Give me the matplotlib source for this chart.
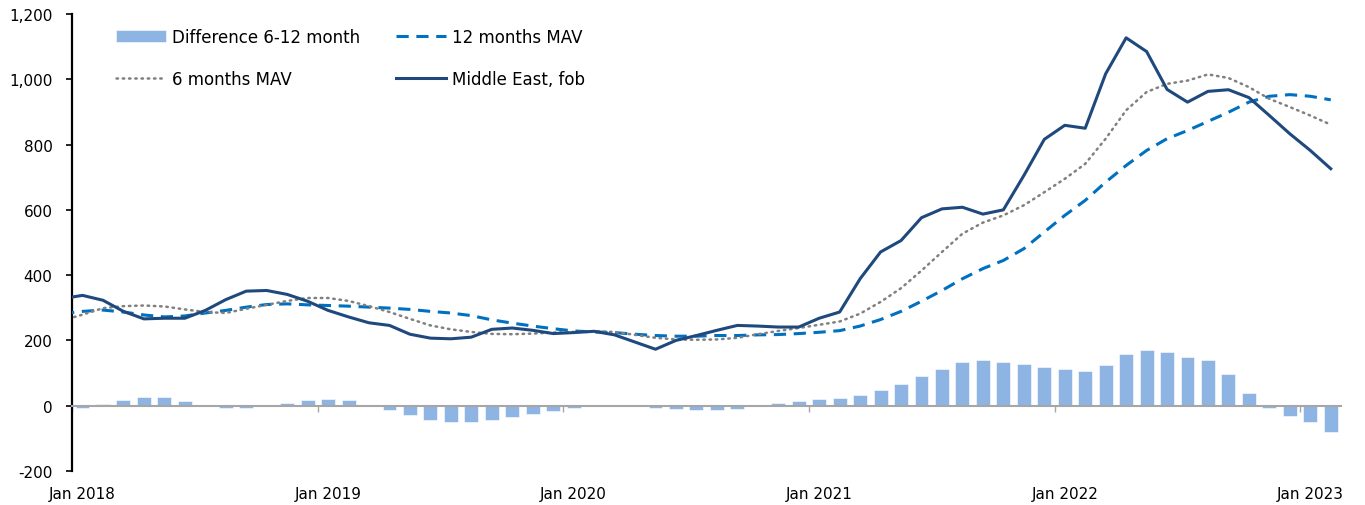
import numpy as np
import pandas as pd
import matplotlib
matplotlib.use("Agg")
import matplotlib.pyplot as plt
from matplotlib.ticker import FuncFormatter, FixedLocator, NullLocator

# ---------------- data (Dec 2017 .. Feb 2023, monthly) ----------------
months = pd.date_range("2017-12-01", "2023-02-01", freq="MS")

middle_east_fob = [328,
    338, 323, 289, 266, 268, 268, 292, 325, 351, 353, 341, 320,
    292, 272, 254, 246, 219, 207, 205, 210, 234, 238, 231, 221,
    224, 228, 217, 195, 173, 200, 215, 231, 246, 244, 241, 241,
    268, 287, 389, 471, 506, 576, 603, 608, 587, 600, 705, 816,
    859, 850, 1017, 1127, 1085, 969, 930, 963, 968, 944, 889, 833,
    782, 726]

mav_6 = [261,
    279, 299, 305, 307, 304, 295, 287, 284, 297, 309, 321, 330,
    330, 321, 305, 287, 266, 246, 234, 226, 220, 219, 221, 224,
    226, 228, 226, 217, 208, 203, 202, 203, 208, 219, 229, 238,
    248, 258, 282, 318, 360, 414, 471, 527, 561, 583, 614, 654,
    695, 741, 818, 905, 961, 986, 996, 1015, 1004, 976, 940, 915,
    889, 861]

mav_12 = [282,
    289, 293, 287, 278, 272, 275, 284, 292, 302, 310, 312, 309,
    307, 305, 302, 299, 295, 289, 284, 276, 263, 253, 244, 236,
    229, 226, 224, 219, 215, 213, 213, 215, 215, 217, 218, 221,
    225, 230, 244, 264, 289, 320, 353, 389, 420, 445, 481, 532,
    583, 629, 685, 736, 782, 818, 843, 871, 899, 930, 948, 953,
    948, 937]

diff_6_12 = [np.nan,
    -8, 6, 17, 26, 26, 15, -1, -8, -6, -1, 7, 17,
    21, 16, 3, -12, -29, -43, -50, -50, -44, -36, -25, -15,
    -6, -2, -1, 0, -6, -10, -13, -13, -9, 0, 8, 14,
    20, 25, 34, 48, 65, 90, 112, 135, 140, 133, 128, 119,
    112, 106, 126, 158, 172, 164, 149, 139, 97, 39, -7, -33,
    -51, -79]

tick_labels = ["Jan 2018", "Jan 2019", "Jan 2020", "Jan 2021", "Jan 2022", "Jan 2023"]
y_ticks = [-200, 0, 200, 400, 600, 800, 1000, 1200]

# ---------------- figure ----------------
plt.rcParams['font.family'] = ['DejaVu Sans']
fig = plt.figure(figsize=(13.65, 5.06), dpi=100)
W, H = 1365, 506
left, right, top, bottom = 72.3, 1341, 15, 472
ax = fig.add_axes([left / W, 1 - bottom / H, (right - left) / W, (bottom - top) / H])

x = np.arange(len(months)) - 1   # Jan 2018 -> 0
jan_idx = [i for i, m in enumerate(months) if m.month == 1]

c_bar = "#8EB4E3"
c_dash = "#0070C0"
c_solid = "#1F497D"
c_dot = "#808080"

bars = ax.bar(x, diff_6_12, width=0.68, color=c_bar, edgecolor="white",
              linewidth=0.4, label="Difference 6-12 month", zorder=2)
l12, = ax.plot(x, mav_12, color=c_dash, lw=2.2, linestyle=(0, (4, 2.5)),
               label="12 months MAV", zorder=3)
l6, = ax.plot(x, mav_6, color=c_dot, lw=1.8, linestyle=(0, (0.6, 1.9)),
              dash_capstyle="round", label="6 months MAV", zorder=3)
lme, = ax.plot(x, middle_east_fob, color=c_solid, lw=2.2,
               solid_joinstyle="round", label="Middle East, fob", zorder=4)

ax.set_xlim(-0.5, len(months) - 1.5)
ax.set_ylim(-200, 1200)

# y axis
ax.yaxis.set_major_locator(FixedLocator(y_ticks))
ax.yaxis.set_major_formatter(FuncFormatter(lambda v, p: f"{int(v):,}"))
ax.tick_params(axis="y", direction="out", length=4.3, width=1.2, colors="black",
               labelsize=11, pad=10)
ax.spines["left"].set_linewidth(1.6)
ax.spines["left"].set_color("black")
for s in ("top", "right"):
    ax.spines[s].set_visible(False)

# horizontal axis line at zero with yearly boundary ticks
ax.spines["bottom"].set_position(("data", 0))
ax.spines["bottom"].set_color("#A6A6A6")
ax.spines["bottom"].set_linewidth(1.5)
ax.xaxis.set_major_locator(NullLocator())
ax.xaxis.set_minor_locator(FixedLocator([x[i] - 0.5 for i in jan_idx]))
ax.tick_params(axis="x", which="minor", direction="out", length=4, width=1,
               colors="#A6A6A6")

# year labels at the bottom of the plot
sec = ax.secondary_xaxis("bottom")
sec.set_xticks([x[i] for i in jan_idx])
sec.set_xticklabels(tick_labels)
sec.tick_params(axis="x", length=0, labelsize=11, pad=10.5)
sec.spines["bottom"].set_visible(False)

# legend
leg = ax.legend(handles=[bars, l6, l12, lme], ncol=2, loc="upper left",
                bbox_to_anchor=(0.0344, 0.970), frameon=False, fontsize=12,
                handlelength=3.0, handletextpad=0.36, columnspacing=2.15,
                labelspacing=1.45, borderpad=0, borderaxespad=0)

fig.savefig("out.png", dpi=100)
